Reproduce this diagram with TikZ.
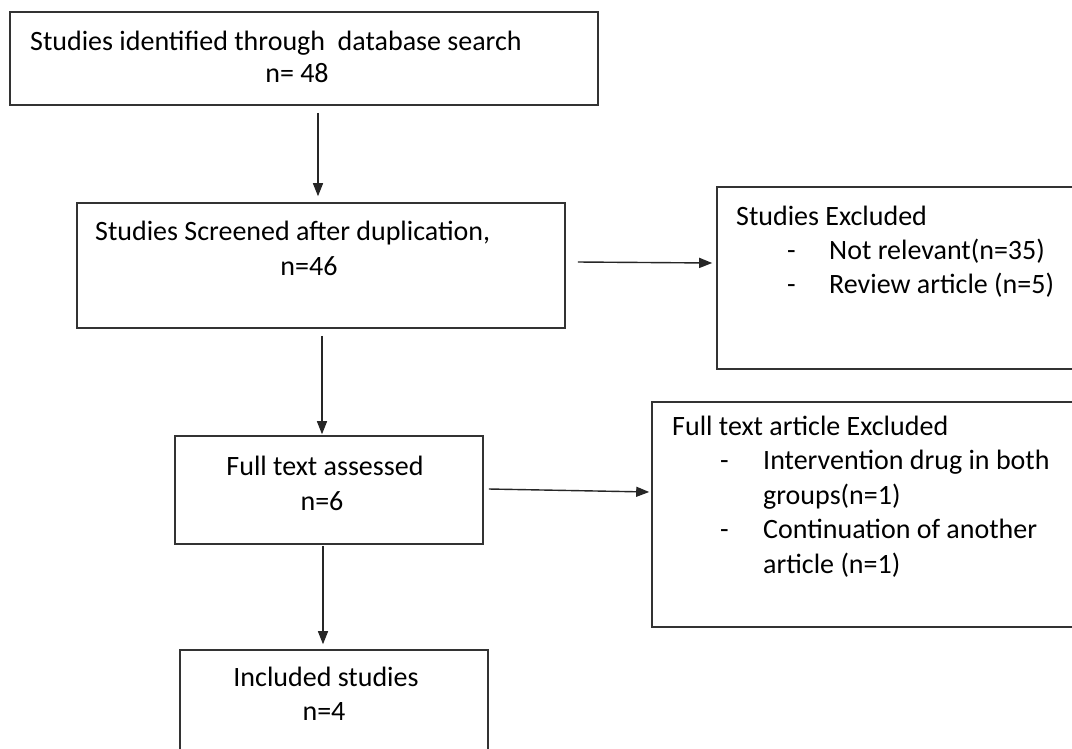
\documentclass[tikz,border=0pt]{standalone}
\usepackage{fontspec}
\setmainfont{Carlito}
\usetikzlibrary{arrows.meta}
\begin{document}
\begin{tikzpicture}[x=1pt,y=-1pt,
  box/.style={draw=black!80, line width=1.6pt, rectangle, inner sep=0pt},
  arr/.style={draw=black!85, line width=1.4pt, -{Triangle[length=13pt,width=10pt]}},
  txt/.style={inner sep=0pt, font=\fontsize{28}{34.5}\selectfont, text=black}
]
\useasboundingbox (0,0) rectangle (1072,748);
\clip (0,0) rectangle (1072,748);
\fill[white] (0,0) rectangle (1072,748);
% boxes
\node[box, minimum width=588pt, minimum height=93pt] (b1) at (304,58.5) {};
\node[box, minimum width=488pt, minimum height=125pt] (b2) at (321,265.5) {};
\node[box, minimum width=373pt, minimum height=182pt] (b3) at (903.5,278) {};
\node[box, minimum width=308pt, minimum height=108pt] (b4) at (329,490) {};
\node[box, minimum width=438pt, minimum height=225pt] (b5) at (871,514.5) {};
\node[box, minimum width=308pt, minimum height=110pt] (b6) at (334,705) {};
% texts
\node[txt, anchor=base west] (t1a) at (30,50) {Studies identified through\ \ database search};
\node[txt, anchor=base] (t1b) at (297,82) {n= 48};
\node[txt, anchor=base west] (t2a) at (95,240) {Studies Screened after duplication,};
\node[txt, anchor=base] (t2b) at (309,275) {n=46};
\node[txt, anchor=base west] (t3a) at (736,225) {Studies Excluded};
\node[txt, anchor=base west] (t3d1) at (787,259) {-};
\node[txt, anchor=base west] (t3b) at (829,259) {Not relevant(n=35)};
\node[txt, anchor=base west] (t3d2) at (787,293) {-};
\node[txt, anchor=base west] (t3c) at (829,293) {Review article (n=5)};
\node[txt, anchor=base] (t4a) at (325,475) {Full text assessed};
\node[txt, anchor=base] (t4b) at (322,510) {n=6};
\node[txt, anchor=base west] (t5a) at (672,435) {Full text article Excluded};
\node[txt, anchor=base west] (t5d1) at (720,469.5) {-};
\node[txt, anchor=base west, align=left] (t5b) at (763,504) {Intervention drug in both\\groups(n=1)};
\node[txt, anchor=base west] (t5d2) at (720,538.5) {-};
\node[txt, anchor=base west, align=left] (t5c) at (763,573) {Continuation of another\\article (n=1)};
\node[txt, anchor=base] (t6a) at (326,686) {Included studies};
\node[txt, anchor=base] (t6b) at (324,720) {n=4};
% arrows
\draw[arr] ([xshift=14pt,yshift=-7pt]b1.south) -- ([xshift=-3pt,yshift=6pt]b2.north);
\draw[arr] ([xshift=12pt,yshift=3.5pt]b2.east) -- ([xshift=-4pt,yshift=15pt]b3.west);
\draw[arr] ([xshift=1pt,yshift=-7pt]b2.south) -- ([xshift=-7pt,yshift=1pt]b4.north);
\draw[arr] ([xshift=5pt,yshift=1pt]b4.east) -- ([xshift=-2pt,yshift=22.5pt]b5.west);
\draw[arr] ([xshift=-6pt,yshift=-1pt]b4.south) -- ([xshift=-11pt,yshift=5pt]b6.north);
\end{tikzpicture}
\end{document}
